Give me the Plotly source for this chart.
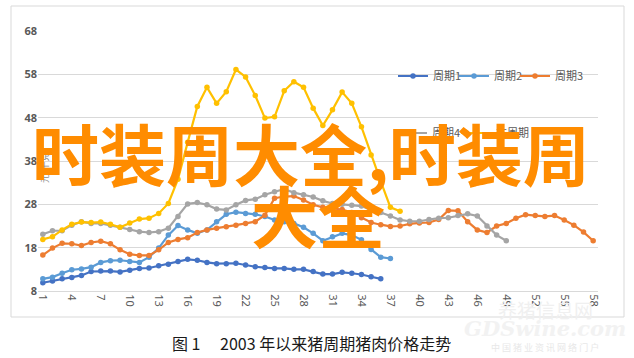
import plotly.graph_objects as go

# ---- data ----
periods = list(range(1, 59))
tick_vals = [1, 4, 7, 10, 13, 16, 19, 22, 25, 28, 31, 34, 37, 40, 43, 46, 49, 52, 55, 58]
tick_text = ["1", "4", "7", "10", "13", "16", "19", "22", "25", "28", "31", "34", "37",
             "40", "43", "46", "49", "52", "55", "58"]
y_ticks = [8, 18, 28, 38, 48, 58, 68]

cycle1 = [9.9, 10.3, 10.8, 11.1, 11.6, 12.5, 12.6, 12.6, 12.4, 12.8, 13.2, 13.3, 13.8, 14.2,
          14.8, 15.3, 15.1, 14.6, 14.3, 14.3, 14.4, 14.0, 13.6, 13.4, 13.2, 13.2, 13.0, 13.0,
          12.5, 11.9, 11.9, 12.3, 12.1, 11.8, 11.3, 10.8]
cycle2 = [10.8, 11.2, 12.1, 12.9, 13.1, 13.5, 14.6, 15.0, 15.1, 14.8, 14.6, 15.8, 17.9, 20.9,
          23.1, 22.1, 21.3, 22.1, 24.0, 25.7, 26.2, 25.9, 25.7, 25.2, 24.4, 24.0, 23.6, 22.7,
          21.3, 19.6, 20.5, 21.3, 20.9, 19.8, 17.6, 15.8, 15.5]
cycle3 = [16.3, 17.9, 19.0, 18.9, 18.5, 19.2, 19.5, 18.9, 17.5, 16.5, 16.2, 16.2, 17.5, 19.2,
          19.9, 20.3, 21.5, 22.1, 22.5, 22.8, 23.2, 23.6, 24.0, 25.5, 29.4, 29.8, 29.9, 29.0,
          27.9, 27.3, 27.0, 26.8, 26.1, 24.9, 23.8, 23.3, 22.9, 23.0, 23.5, 23.7, 23.8, 24.5,
          26.6, 26.5, 24.0, 22.1, 21.5, 23.0, 23.6, 24.8, 25.6, 25.4, 25.2, 25.4, 24.4, 23.2,
          21.6, 19.6]
cycle4 = [21.1, 21.9, 21.9, 23.2, 24.0, 23.6, 23.6, 23.2, 22.7, 22.2, 21.7, 21.5, 21.7, 22.5,
          25.2, 28.1, 28.4, 27.9, 26.9, 26.7, 27.9, 28.9, 29.2, 30.2, 30.9, 31.5, 30.7, 30.2,
          29.7, 28.8, 28.2, 28.0, 27.8, 27.6, 26.7, 26.1, 25.3, 24.4, 24.1, 24.1, 24.5, 24.8,
          24.9, 25.4, 25.8, 25.3, 23.0, 20.9, 19.6]
current = [19.9, 20.5, 22.1, 23.4, 23.9, 23.8, 23.9, 23.4, 22.7, 23.7, 24.6, 24.8, 25.9, 28.2,
           33.8, 42.3, 50.6, 55.0, 51.3, 54.0, 59.1, 57.4, 53.1, 47.9, 48.2, 54.2, 56.3, 55.0,
           50.2, 46.2, 49.8, 53.9, 51.3, 45.9, 39.4, 33.3, 27.3, 26.4]

series_names = ["周期1", "周期2", "周期3", "周期4", "本周期"]
series_values = [cycle1, cycle2, cycle3, cycle4, current]
series_colors = ["#4472C4", "#5B9BD5", "#ED7D31", "#A5A5A5", "#FFC000"]

W, H = 634, 358
L, R, T, B = 38, 36, 31, 67
pw, ph = W - L - R, H - T - B


def px(xp):
    return (xp - L) / pw


def py(yp):
    return (H - B - yp) / ph


# legend item origins (pixels): one legend per item so positions match
legend_pos = [(393, 76), (454, 76), (515, 76), (392, 133), (456, 133)]
legend_ids = ["legend", "legend2", "legend3", "legend4", "legend5"]

fig = go.Figure()
for name, vals, color, lg in zip(series_names, series_values, series_colors, legend_ids):
    fig.add_trace(go.Scatter(
        x=periods[:len(vals)], y=vals, name=name, mode="lines+markers",
        line=dict(color=color, width=2.2),
        marker=dict(color=color, size=5.5),
        legend=lg,
    ))

axis_font = dict(family="Noto Sans, DejaVu Sans, sans-serif", size=11, color="#595959")
layout = dict(
    width=W, height=H,
    margin=dict(l=L, r=R, t=T, b=B),
    paper_bgcolor="white", plot_bgcolor="white",
    font=dict(family="Noto Sans CJK SC, Noto Sans, sans-serif"),
    xaxis=dict(range=[0.5, 58.5], tickmode="array", tickvals=tick_vals, ticktext=tick_text,
               tickangle=90, showgrid=False, zeroline=False, showline=True,
               linecolor="#d9d9d9", linewidth=1, tickfont=axis_font, ticks=""),
    yaxis=dict(range=[8, 68], tickmode="array", tickvals=y_ticks, showgrid=True,
               gridcolor="#d9d9d9", gridwidth=1, zeroline=False, showline=False,
               tickfont=dict(family="Noto Sans, DejaVu Sans, sans-serif", size=11,
                             color="#595959", weight="bold"), ticks=""),
    showlegend=True,
)
for lg, (lx, ly) in zip(legend_ids, legend_pos):
    layout[lg] = dict(orientation="h", x=px(lx), y=py(ly), xanchor="left", yanchor="middle",
                      font=dict(size=11, color="#595959", family="Noto Sans CJK SC, sans-serif"),
                      bgcolor="rgba(0,0,0,0)", itemwidth=30, borderwidth=0)
fig.update_layout(**layout)

# chart frame
fig.add_shape(type="rect", xref="paper", yref="paper",
              x0=px(11), x1=px(624), y0=py(317), y1=py(6),
              line=dict(color="#d9d9d9", width=1), fillcolor="rgba(0,0,0,0)", layer="below")


def note(text, x, y, font, angle=0):
    fig.add_annotation(text=text, xref="paper", yref="paper", x=px(x), y=py(y),
                       xanchor="center", yanchor="middle", showarrow=False,
                       textangle=angle, font=font)


# y axis unit title
note("元/千克", 44, 168, dict(size=9, color="#8c8c8c", family="Noto Sans CJK SC"), -90)

# watermark (faint)
note("养猪信息网", 545, 309, dict(size=19, color="#f0f0f0", family="Noto Sans CJK SC"))
note("GDSwine.com", 545, 328, dict(size=21, color="#f2f2f2", family="DejaVu Serif",
                                   weight="bold", style="italic"))
note("中 国 猪 业 资 讯 网 络 门 户", 545, 347,
     dict(size=9, color="#e8e8e8", family="Noto Sans CJK SC"))

# caption
note("图 1\u2003 2003 年以来猪周期猪肉价格走势", 311, 343,
     dict(size=16, color="#1a1a1a", family="Noto Sans CJK SC"))

# big overlay text
big = dict(size=67, color="#FF8C00", family="Noto Sans CJK SC", weight="bold")
note("时装周大全,时装周", 311, 151, big)
note("大全", 318, 213, big)

fig.write_html("out.html", config={"displayModeBar": False},
               post_script="document.body.style.margin='0px';")
